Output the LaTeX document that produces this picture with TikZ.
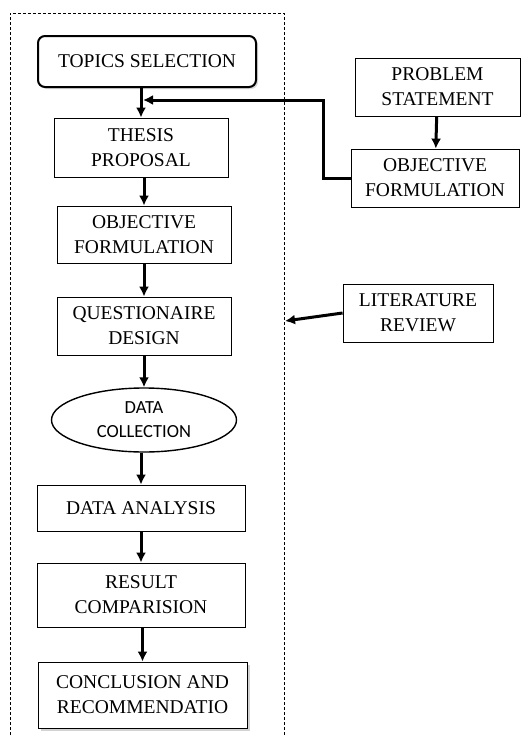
\documentclass[tikz,border=0pt]{standalone}
\usepackage{fontspec}
\setmainfont{Liberation Serif}
\newfontfamily\calfont{Carlito}
\usetikzlibrary{arrows.meta,shadows,shapes.geometric}
\begin{document}
\begin{tikzpicture}[x=1pt,y=-1pt,
  box/.style={draw,line width=0.8pt,align=center,inner sep=2pt,font=\fontsize{19.5}{25}\selectfont},
  arr/.style={-{Latex[length=10pt,width=10pt]},line width=3pt},
  frame/.style={dash pattern=on 3pt off 2pt,line width=0.8pt}]
\useasboundingbox (0,0) rectangle (521,736);
\draw[frame] (10,745)--(10,13)--(284,13)--(284,745);
\node[box,rounded corners=7pt,line width=2pt,minimum width=218,minimum height=51,
  drop shadow={opacity=0.3,shadow xshift=2pt,shadow yshift=-2pt},fill=white] (topics) at (147,61.5){TOPICS SELECTION};
\node[box,minimum width=174,minimum height=59] (thesis) at (141,147.5){THESIS\\PROPOSAL};
\node[box,minimum width=174,minimum height=57] (objA) at (144,234.5){OBJECTIVE\\FORMULATION};
\node[box,minimum width=174,minimum height=58] (quest) at (144,326){QUESTIONAIRE\\DESIGN};
\node[box,ellipse,line width=1.4pt,inner sep=0pt,minimum width=185,minimum height=64,
  font=\calfont\fontsize{18.5}{24}\selectfont] (datacol) at (144,420){DATA\\COLLECTION};
\node[box,minimum width=208,minimum height=46] (analysis) at (141,508){DATA ANALYSIS};
\node[box,minimum width=208,minimum height=64] (result) at (141,595){RESULT\\COMPARISION};
\node[box,minimum width=209,minimum height=66,fill=white,
  drop shadow={opacity=0.35,shadow xshift=2.5pt,shadow yshift=-2.5pt}] (concl) at (142.5,695){CONCLUSION AND\\RECOMMENDATIO};
\node[box,minimum width=165,minimum height=58] (problem) at (437.5,87){PROBLEM\\STATEMENT};
\node[box,minimum width=168,minimum height=58] (objB) at (435,178){OBJECTIVE\\FORMULATION};
\node[box,minimum width=150,minimum height=58] (litrev) at (418,313){LITERATURE\\REVIEW};
\coordinate (join) at (143,100);
\coordinate (litend) at (285,321);
\foreach \a/\b in {topics/thesis,thesis/objA,objA/quest,quest/datacol,datacol/analysis,analysis/result,result/concl}
  \draw[arr] (\b.north |- \a.south)--(\b.north);
\draw[arr] (problem)--(objB);
\draw[arr] (objB.west)--++(-27,0)|-(join);
\draw[arr] (litrev.west)--(litend);
\end{tikzpicture}
\end{document}
